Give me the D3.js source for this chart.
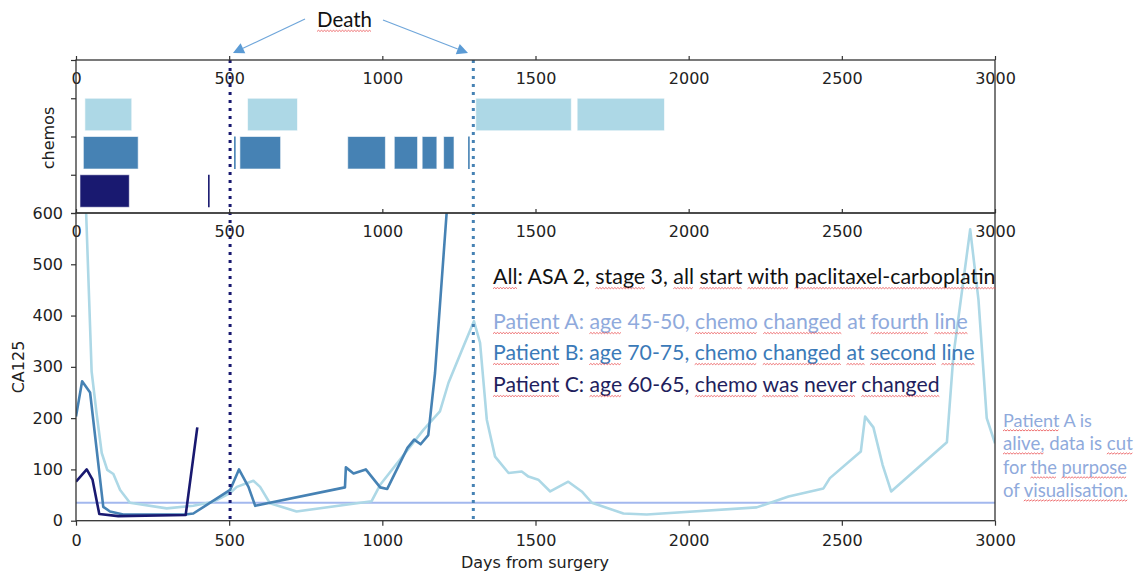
<!DOCTYPE html>
<html>
<head>
<meta charset="utf-8">
<script src="https://cdn.jsdelivr.net/npm/d3@7"></script>
<style>
  body { margin: 0; background: #fff; }
  svg { display: block; }
  .tick text { font-family: "DejaVu Sans", sans-serif; font-size: 16px; fill: #222; }
  .tick line { stroke: #333; stroke-width: 1.2; }
  .ax-label { font-family: "DejaVu Sans", sans-serif; font-size: 16px; fill: #222; }
  .note { font-family: Lato, "Open Sans", sans-serif; }
</style>
</head>
<body>
<svg id="chart" width="1137" height="573"></svg>
<script>
// CA125 series per patient: [days from surgery, CA125]
var patientA = [[25,740],[51,291],[67,210],[84,132],[102,99],[122,91],[144,60],[176,35],[296,24],
  [383,29],[448,37],[503,54],[525,66],[579,78],[601,66],[633,34],[720,18],[965,38],[993,70],
  [1134,177],[1188,213],[1216,269],[1265,340],[1299,389],[1319,347],[1341,197],[1368,125],
  [1412,93],[1455,96],[1477,86],[1509,80],[1548,57],[1607,76],[1651,57],[1684,35],[1787,14],
  [1863,12],[2222,26],[2326,47],[2440,63],[2461,83],[2562,135],[2576,203],[2603,182],[2633,109],
  [2661,57],[2843,153],[2864,321],[2919,568],[2946,431],[2973,200],[3000,151]];
var patientB = [[0,203],[20,272],[46,250],[89,27],[111,18],[154,12],[356,12],[383,14],[503,60],
  [532,100],[563,66],[585,29],[878,65],[881,104],[906,92],[946,100],[993,65],[1016,62],
  [1082,142],[1104,158],[1125,149],[1150,167],[1172,288],[1210,601],[1235,850]];
var patientC = [[0,76],[35,100],[54,80],[76,13],[138,9],[358,11],[396,182]];

// chemo periods [start, end] in days
var chemoA = [[29,182],[560,723],[1305,1617],[1636,1921]];
var chemoB = [[24,203],[516,518],[535,668],[887,1010],[1039,1115],[1130,1178],[1200,1234],[1280,1282]];
var chemoC = [[13,174],[431,433]];

var deathDays = [503, 1297];       // patient C, patient B
var normalLimit = 35;              // CA125 reference line
var xTicks = [0, 500, 1000, 1500, 2000, 2500, 3000];
var yTicks = [0, 100, 200, 300, 400, 500, 600];

var colA = "#add8e6", colB = "#4682b4", colC = "#191970";

var svg = d3.select("#chart");
svg.append("rect").attr("width", 1137).attr("height", 573).attr("fill", "#fff");

var left = 76, right = 995;
var x = d3.scaleLinear().domain([0, 3000]).range([left, right]);
var yTop = d3.scaleLinear().domain([0, 4]).range([213, 60]);
var y = d3.scaleLinear().domain([0, 600]).range([520.7, 213]);

// ---- chemo panel ----
var rows = [
  { data: chemoA, color: colA, pos: 2 },
  { data: chemoB, color: colB, pos: 1 },
  { data: chemoC, color: colC, pos: 0 }
];
rows.forEach(function(r) {
  svg.append("g").selectAll("rect")
    .data(r.data)
    .enter().append("rect")
    .attr("x", function(d) { return x(d[0]); })
    .attr("y", yTop(r.pos + 1))
    .attr("width", function(d) { return Math.max(x(d[1]) - x(d[0]), 1.6); })
    .attr("height", yTop(r.pos + 0.15) - yTop(r.pos + 1))
    .attr("fill", r.color)
    .attr("stroke", function(d) { return x(d[1]) - x(d[0]) < 3 ? "none" : "#fff"; })
    .attr("stroke-opacity", 0.6)
    .attr("stroke-width", 1);
});

// ---- CA125 panel ----
svg.append("clipPath").attr("id", "plotclip")
  .append("rect").attr("x", left).attr("y", 213).attr("width", right - left).attr("height", 520.7 - 213);

svg.append("line")
  .attr("x1", x(0)).attr("x2", x(3000))
  .attr("y1", y(normalLimit)).attr("y2", y(normalLimit))
  .attr("stroke", "#a3b8ee").attr("stroke-width", 2);

var line = d3.line()
  .x(function(d) { return x(d[0]); })
  .y(function(d) { return y(d[1]); });

var lines = svg.append("g").attr("clip-path", "url(#plotclip)");
[[patientA, colA], [patientB, colB], [patientC, colC]].forEach(function(p) {
  lines.append("path")
    .datum(p[0])
    .attr("d", line)
    .attr("fill", "none")
    .attr("stroke", p[1])
    .attr("stroke-width", 2.6)
    .attr("stroke-linejoin", "round");
});

// death markers through both panels
svg.selectAll(".death")
  .data(deathDays)
  .enter().append("line")
  .attr("class", "death")
  .attr("x1", function(d) { return x(d); })
  .attr("x2", function(d) { return x(d); })
  .attr("y1", 60).attr("y2", 520.7)
  .attr("stroke", function(d, i) { return i === 0 ? colC : colB; })
  .attr("stroke-width", 3)
  .attr("stroke-dasharray", "3,5");

// ---- axes ----
function styleAxis(g) {
  g.select(".domain").remove();
}
function topLabels(g) {
  g.selectAll(".tick text").attr("y", 13).attr("dy", "0.71em");
}

svg.append("g").attr("transform", "translate(0,60)")
  .call(d3.axisTop(x).tickValues(xTicks).tickSize(4).tickFormat(d3.format("d")))
  .call(styleAxis).call(topLabels);
svg.append("g").attr("transform", "translate(0,213)")
  .call(d3.axisTop(x).tickValues(xTicks).tickSize(4).tickFormat(d3.format("d")))
  .call(styleAxis).call(topLabels);
svg.append("g").attr("transform", "translate(0,520.7)")
  .call(d3.axisBottom(x).tickValues(xTicks).tickSize(5).tickPadding(9).tickFormat(d3.format("d")))
  .call(styleAxis);
svg.append("g").attr("transform", "translate(" + left + ",0)")
  .call(d3.axisLeft(yTop).tickValues([0, 1, 2, 3, 4]).tickSize(5).tickFormat(""))
  .call(styleAxis);
svg.append("g").attr("transform", "translate(" + left + ",0)")
  .call(d3.axisLeft(y).tickValues(yTicks).tickSize(5).tickPadding(8))
  .call(styleAxis);

// spines
[[60, 213], [213, 520.7]].forEach(function(b) {
  svg.append("rect")
    .attr("x", left).attr("y", b[0])
    .attr("width", right - left).attr("height", b[1] - b[0])
    .attr("fill", "none").attr("stroke", "#333").attr("stroke-width", 1.3);
});

svg.append("text").attr("class", "ax-label")
  .attr("x", 535).attr("y", 568).attr("text-anchor", "middle")
  .text("Days from surgery");
svg.append("text").attr("class", "ax-label")
  .attr("transform", "translate(24,367) rotate(-90)").attr("text-anchor", "middle")
  .text("CA125");
svg.append("text").attr("class", "ax-label")
  .attr("transform", "translate(54,138) rotate(-90)").attr("text-anchor", "middle")
  .text("chemos");

// ---- annotations ----
function squiggle(x0, x1, yy) {
  var p = "M" + x0 + "," + yy;
  var up = true;
  for (var sx = x0 + 1.5; sx <= x1; sx += 1.5) {
    p += "L" + sx + "," + (up ? yy - 1.2 : yy);
    up = !up;
  }
  return p;
}

// text fitted to the width it takes in the slide, words with spell-check marks
function note(str, x0, base, width, color, marked) {
  var t = svg.append("text").attr("class", "note")
    .attr("x", x0).attr("y", base)
    .attr("font-size", 20).attr("fill", color)
    .text(str);
  var w = t.node().getComputedTextLength();
  t.attr("font-size", 20 * width / w);
  var fs = 20 * width / w;
  var node = t.node();
  var from = 0;
  marked.forEach(function(word) {
    var idx = str.indexOf(word, from);
    if (idx < 0) return;
    from = idx + word.length;
    var s = x0 + (idx > 0 ? node.getSubStringLength(0, idx) : 0);
    var ww = node.getSubStringLength(idx, word.length);
    svg.append("path")
      .attr("d", squiggle(s, s + ww, base + fs * 0.22))
      .attr("fill", "none").attr("stroke", "#e8474a")
      .attr("stroke-width", 0.9).attr("stroke-opacity", 0.85);
  });
}

note("Death", 317, 27, 55, "#111", ["Death"]);

note("All: ASA 2, stage 3, all start with paclitaxel-carboplatin", 493, 284, 503, "#111",
  ["All", "stage", "all", "start", "with", "paclitaxel-carboplatin"]);
note("Patient A: age 45-50, chemo changed at fourth line", 493, 329, 475, "#8faadc",
  ["Patient", "age", "chemo", "changed", "fourth", "line"]);
note("Patient B: age 70-75, chemo changed at second line", 493, 360, 482, "#3b7ab8",
  ["Patient", "age", "chemo", "changed", "at", "second", "line"]);
note("Patient C: age 60-65, chemo was never changed", 493, 392, 447, "#1f1f5e",
  ["Patient", "age", "chemo", "was", "never", "changed"]);

note("Patient A is", 1003, 427, 89, "#8faadc", ["Patient"]);
note("alive, data is cut", 1003, 450, 130, "#8faadc", ["alive,", "cut"]);
note("for the purpose", 1003, 474, 124, "#8faadc", ["the", "purpose"]);
note("of visualisation.", 1003, 497, 125, "#8faadc", ["visualisation."]);

// arrows from "Death" to the two markers
var arrows = [[[305, 19], [233, 53]], [[383, 20], [468, 53]]];
arrows.forEach(function(a) {
  var s = a[0], e = a[1];
  var dx = e[0] - s[0], dy = e[1] - s[1];
  var len = Math.sqrt(dx * dx + dy * dy);
  var ux = dx / len, uy = dy / len;
  var hl = 11, hw = 5.5;
  var bx = e[0] - ux * hl, by = e[1] - uy * hl;
  svg.append("line")
    .attr("x1", s[0]).attr("y1", s[1]).attr("x2", bx).attr("y2", by)
    .attr("stroke", "#6fa6da").attr("stroke-width", 1.2);
  svg.append("polygon")
    .attr("points", [e, [bx - uy * hw, by + ux * hw], [bx + uy * hw, by - ux * hw]]
      .map(function(p) { return p.join(","); }).join(" "))
    .attr("fill", "#5b9bd5");
});
</script>
</body>
</html>
